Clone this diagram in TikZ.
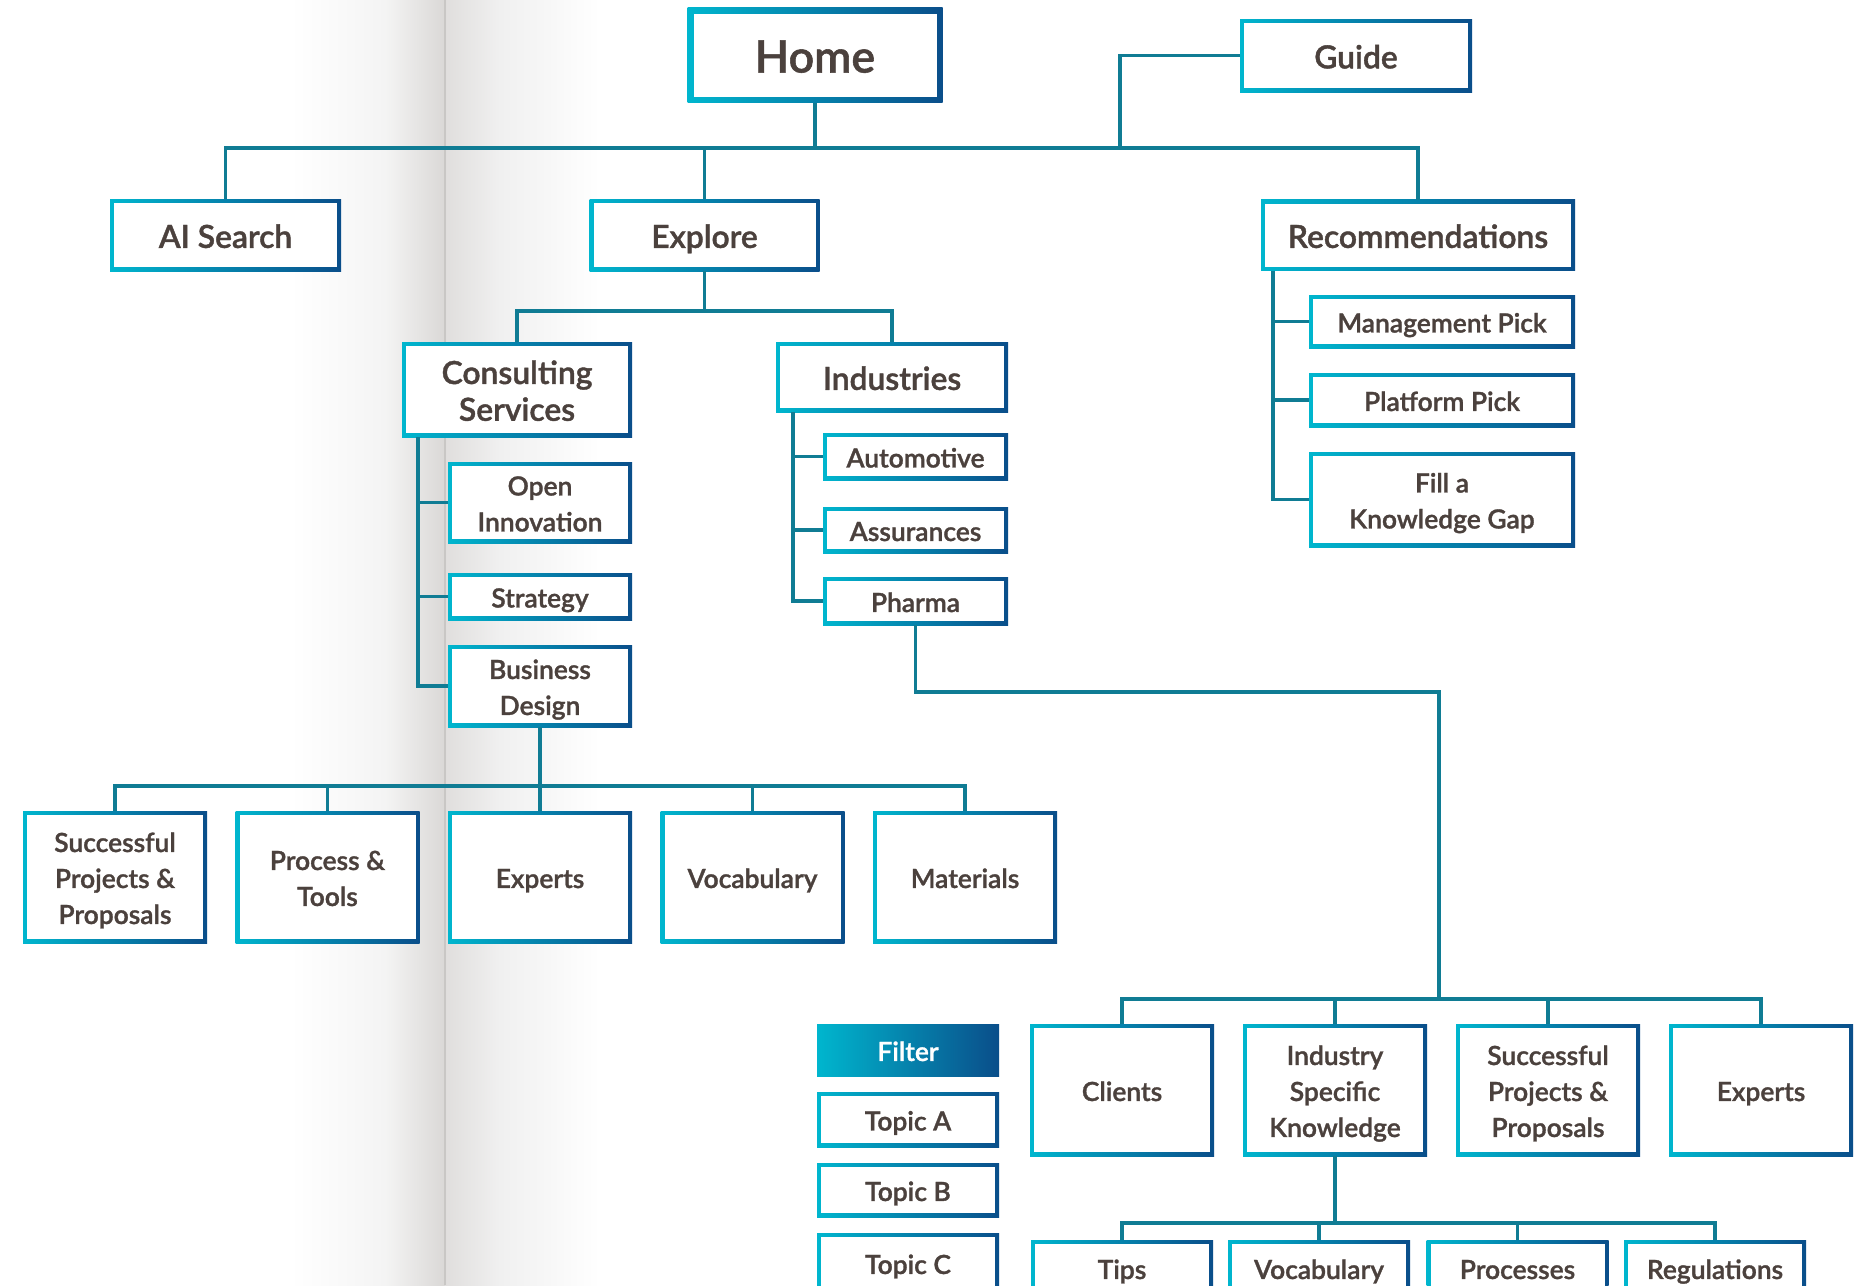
\documentclass[tikz,border=0pt]{standalone}
\usepackage{fontspec}
\setmainfont{Lato Semibold}[FakeBold=1.2,AutoFakeBold=1.2]
\usetikzlibrary{calc}
\definecolor{gcyan}{RGB}{0,182,206}
\definecolor{gblue}{RGB}{10,78,138}
\definecolor{link}{RGB}{16,124,148}
\definecolor{ink}{RGB}{75,65,61}
\definecolor{foldA}{RGB}{244,244,244}
\definecolor{foldB}{RGB}{218,216,214}
\definecolor{foldC}{RGB}{224,222,221}
\definecolor{foldD}{RGB}{240,240,240}
\definecolor{foldE}{RGB}{201,199,197}
% centred label lines, nudged so the capitals sit on the box middle
\newcommand{\lbl}[1]{\raisebox{-\tdrop}[\height][\depth]{\bfseries\begin{tabular}{@{}c@{}}#1\end{tabular}}}
\begin{document}
\begin{tikzpicture}[x=0.5pt,y=-0.5pt,
  conn/.style={draw=link, line width=1.8pt},
  bw/.code={\def\bw{#1}},
  gbox/.style 2 args={rectangle, inner sep=0pt, outer sep=0pt, text=ink,
     minimum width=#1*0.5pt, minimum height=#2*0.5pt,
     left color=gcyan, right color=gblue, bw=2pt,
     path picture={\fill[white] ([xshift=\bw,yshift=-\bw]path picture bounding box.north west)
        rectangle ([xshift=-\bw,yshift=\bw]path picture bounding box.south east);}},
  big/.style={font=\fontsize{22.4}{30}\selectfont\def\tdrop{2.77pt}},
  mid/.style={font=\fontsize{15.9}{18.4}\selectfont\def\tdrop{2.76pt}},
  small/.style={font=\fontsize{13.2}{18}\selectfont\def\tdrop{1.88pt}},
]
% page background with the book fold
\useasboundingbox (0,0) rectangle (1862,1285);
\clip (0,0) rectangle (1862,1285);
\fill[white] (0,0) rectangle (1862,1285);
\shade[left color=white, right color=foldA] (290,0) rectangle (385,1285);
\shade[left color=foldA, right color=foldB] (385,0) rectangle (445,1285);
\shade[left color=foldC, right color=foldD] (445,0) rectangle (500,1285);
\shade[left color=foldD, right color=white] (500,0) rectangle (600,1285);
\fill[foldE] (444,0) rectangle (446,1285);

% top level
\node[gbox={255}{95}, bw=3pt, big] (home) at (815,55) {\lbl{Home}};
\node[gbox={232}{73}, mid] (guide) at (1356,55.5) {\lbl{Guide}};
\node[gbox={231}{72}, mid] (ais) at (225.5,235) {\lbl{AI Search}};
\node[gbox={230}{72}, mid] (exp) at (704.5,235) {\lbl{Explore}};
\node[gbox={314}{71}, mid] (rec) at (1418,235) {\lbl{Recommendations}};

% recommendations
\node[gbox={266}{53}, small] (mp) at (1442,321.5) {\lbl{Management Pick}};
\node[gbox={266}{54}, small] (pp) at (1442,400) {\lbl{Platform Pick}};
\node[gbox={266}{95}, small] (fkg) at (1442,499.5) {\lbl{Fill a\\Knowledge Gap}};

% explore
\node[gbox={230}{95}, mid] (cons) at (517,389.5) {\lbl{Consulting\\Services}};
\node[gbox={184}{81}, small] (oi) at (540,502.5) {\lbl{Open\\Innovation}};
\node[gbox={184}{47}, small] (str) at (540,596.5) {\lbl{Strategy}};
\node[gbox={184}{82}, small] (bd) at (540,686) {\lbl{Business\\Design}};

\node[gbox={232}{70}, mid] (ind) at (892,377) {\lbl{Industries}};
\node[gbox={185}{47}, small] (auto) at (915.5,456.5) {\lbl{Automotive}};
\node[gbox={185}{46}, small] (ass) at (915.5,530) {\lbl{Assurances}};
\node[gbox={185}{48}, small] (ph) at (915.5,601) {\lbl{Pharma}};

% business design contents
\node[gbox={184}{132}, small] (spa) at (115,877) {\lbl{Successful\\Projects \&\\Proposals}};
\node[gbox={184}{132}, small] (pt) at (327.5,877) {\lbl{Process \&\\Tools}};
\node[gbox={184}{132}, small] (expa) at (540,877) {\lbl{Experts}};
\node[gbox={184}{132}, small] (voca) at (752.5,877) {\lbl{Vocabulary}};
\node[gbox={184}{132}, small] (mat) at (965,877) {\lbl{Materials}};

% pharma contents
\node[gbox={184}{132}, small] (cli) at (1122,1090) {\lbl{Clients}};
\node[gbox={184}{132}, small] (isk) at (1335,1090) {\lbl{Industry\\Specific\\Knowledge}};
\node[gbox={184}{132}, small] (spb) at (1548,1090) {\lbl{Successful\\Projects \&\\Proposals}};
\node[gbox={184}{132}, small] (expb) at (1761,1090) {\lbl{Experts}};

\node[gbox={182}{56}, small] (tips) at (1122,1268) {\lbl{Tips}};
\node[gbox={182}{56}, small] (vocb) at (1319,1268) {\lbl{Vocabulary}};
\node[gbox={182}{56}, small] (proc) at (1517.5,1268) {\lbl{Processes}};
\node[gbox={182}{56}, small] (reg) at (1715,1268) {\lbl{Regulations}};

% filter panel
\node[rectangle, inner sep=0pt, minimum width=91pt, minimum height=26pt,
      left color=gcyan, right color=gblue, text=white, small] (filter) at (908,1050) {\lbl{Filter}};
\node[gbox={182}{55}, small] (ta) at (908,1119.5) {\lbl{Topic A}};
\node[gbox={182}{54}, small] (tb) at (908,1190) {\lbl{Topic B}};
\node[gbox={182}{60}, small] (tc) at (908,1263) {\lbl{Topic C}};

% connector rails
\coordinate (r1) at (0,148);
\coordinate (gj) at (1120,148);
\coordinate (r2) at (0,311);
\coordinate (r3) at (0,786);
\coordinate (pj) at (1439,692);
\coordinate (r4) at (0,999);
\coordinate (r5) at (0,1223);
\coordinate (cx) at (418,0);
\coordinate (ix) at (793,0);
\coordinate (rx) at (1273,0);

% top level links
\draw[conn] (home.south) -- (home.south |- r1);
\draw[conn] (ais.north) |- (rec.north |- r1) -- (rec.north);
\draw[conn] (exp.north) -- (exp.north |- r1);
\draw[conn] (guide.west) -| (gj);

% recommendations links
\draw[conn] (rec.south -| rx) |- (fkg.west);
\draw[conn] (mp.west -| rx) -- (mp.west);
\draw[conn] (pp.west -| rx) -- (pp.west);

% explore links
\draw[conn] (exp.south) -- (exp.south |- r2);
\draw[conn] (cons.north) |- (ind.north |- r2) -- (ind.north);
\draw[conn] (cons.south -| cx) |- (bd.west);
\draw[conn] (oi.west -| cx) -- (oi.west);
\draw[conn] (str.west -| cx) -- (str.west);
\draw[conn] (ind.south -| ix) |- (ph.west);
\draw[conn] (auto.west -| ix) -- (auto.west);
\draw[conn] (ass.west -| ix) -- (ass.west);

% business design links
\draw[conn] (bd.south) -- (bd.south |- r3);
\draw[conn] (spa.north) |- (mat.north |- r3) -- (mat.north);
\draw[conn] (pt.north) -- (pt.north |- r3);
\draw[conn] (expa.north) -- (expa.north |- r3);
\draw[conn] (voca.north) -- (voca.north |- r3);

% pharma links
\draw[conn] (ph.south) |- (pj) -- (pj |- r4);
\draw[conn] (cli.north) |- (expb.north |- r4) -- (expb.north);
\draw[conn] (isk.north) -- (isk.north |- r4);
\draw[conn] (spb.north) -- (spb.north |- r4);

% industry specific knowledge links
\draw[conn] (isk.south) -- (isk.south |- r5);
\draw[conn] (tips.north) |- (reg.north |- r5) -- (reg.north);
\draw[conn] (vocb.north) -- (vocb.north |- r5);
\draw[conn] (proc.north) -- (proc.north |- r5);
\end{tikzpicture}
\end{document}
